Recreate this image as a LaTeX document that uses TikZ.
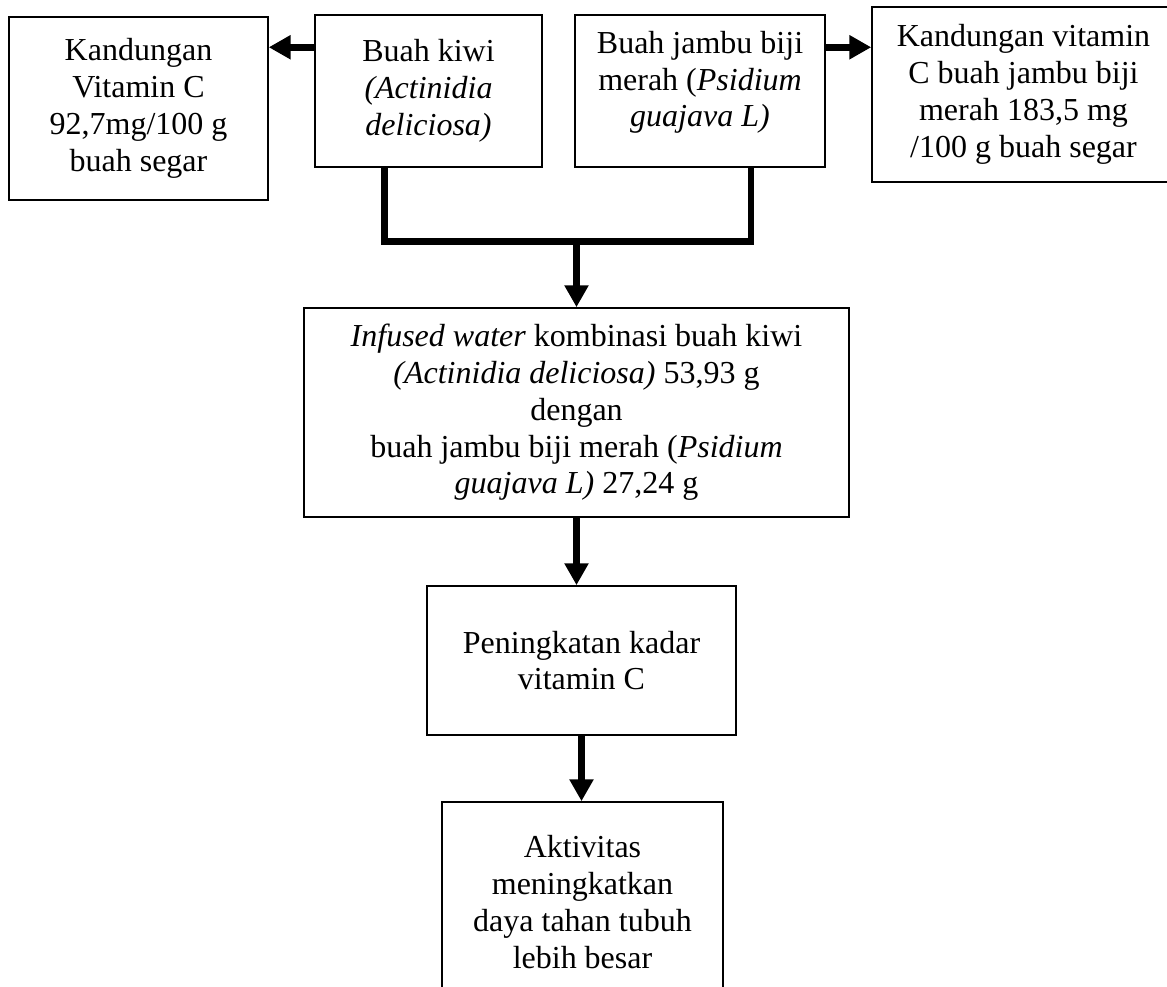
\documentclass[tikz,border=0pt]{standalone}
\usepackage{fontspec}
\setmainfont{Liberation Serif}
\usetikzlibrary{arrows.meta}

\begin{document}
\begin{tikzpicture}[x=0.375pt,y=-0.375pt,
    box/.style={draw,line width=0.6pt,align=center,inner sep=0pt,
        font=\fontsize{12pt}{13.8pt}\selectfont},
    link/.style={line width=2.5pt,line join=miter},
    flow/.style={link,-{Triangle[length=8.2pt,width=8.6pt]}}]
    \useasboundingbox (0,0) rectangle (1167,987);
    % top row
    \node[box,minimum width=97.1pt,minimum height=68.6pt] (vitL) at (138.5,108.5)
        {Kandungan\\Vitamin C\\92,7mg/100 g\\buah segar};
    \node[box,minimum width=85.1pt,minimum height=57pt] (kiwi) at (428.5,91)
        {Buah kiwi\\\textit{(Actinidia}\\\textit{deliciosa)}};
    \node[box,minimum width=93.75pt,minimum height=57pt,text depth=9pt] (jambu) at (700,91)
        {Buah jambu biji\\merah (\textit{Psidium}\\\textit{guajava L)}};
    \node[box,minimum width=113.6pt,minimum height=65.6pt] (vitR) at (1023.5,94.5)
        {Kandungan vitamin\\C buah jambu biji\\merah 183,5 mg\\/100 g buah segar};
    % middle column
    \node[box,minimum width=204.4pt,minimum height=78.4pt] (infused) at (576.5,412.5)
        {\textit{Infused water} kombinasi buah kiwi\\\textit{(Actinidia deliciosa)} 53,93 g\\dengan\\buah jambu biji merah (\textit{Psidium}\\\textit{guajava L)} 27,24 g};
    \node[box,minimum width=115.9pt,minimum height=55.9pt] (pening) at (581.5,660.5)
        {Peningkatan kadar\\vitamin C};
    \node[box,minimum width=105.4pt,minimum height=75pt] (aktiv) at (582.5,902)
        {Aktivitas\\meningkatkan\\daya tahan tubuh\\lebih besar};
    % side arrows
    \coordinate (kL) at ([yshift=-12.4pt]kiwi.north west);
    \coordinate (jR) at ([yshift=-12.4pt]jambu.north east);
    \draw[flow] (kL) -- (kL -| vitL.east);
    \draw[flow] (jR) -- (jR -| vitR.west);
    % joining line
    \coordinate (kB) at ([xshift=26.3pt]kiwi.south west);
    \coordinate (jB) at ([xshift=-28.1pt]jambu.south east);
    \draw[link] (kB) -- ++(0,74) coordinate (kJ) -| (jB);
    \draw[flow] (kJ -| infused.north) -- (infused.north);
    % down arrows
    \draw[flow] (infused.south) -- (infused.south |- pening.north);
    \draw[flow] (pening.south) -- (pening.south |- aktiv.north);
\end{tikzpicture}
\end{document}
